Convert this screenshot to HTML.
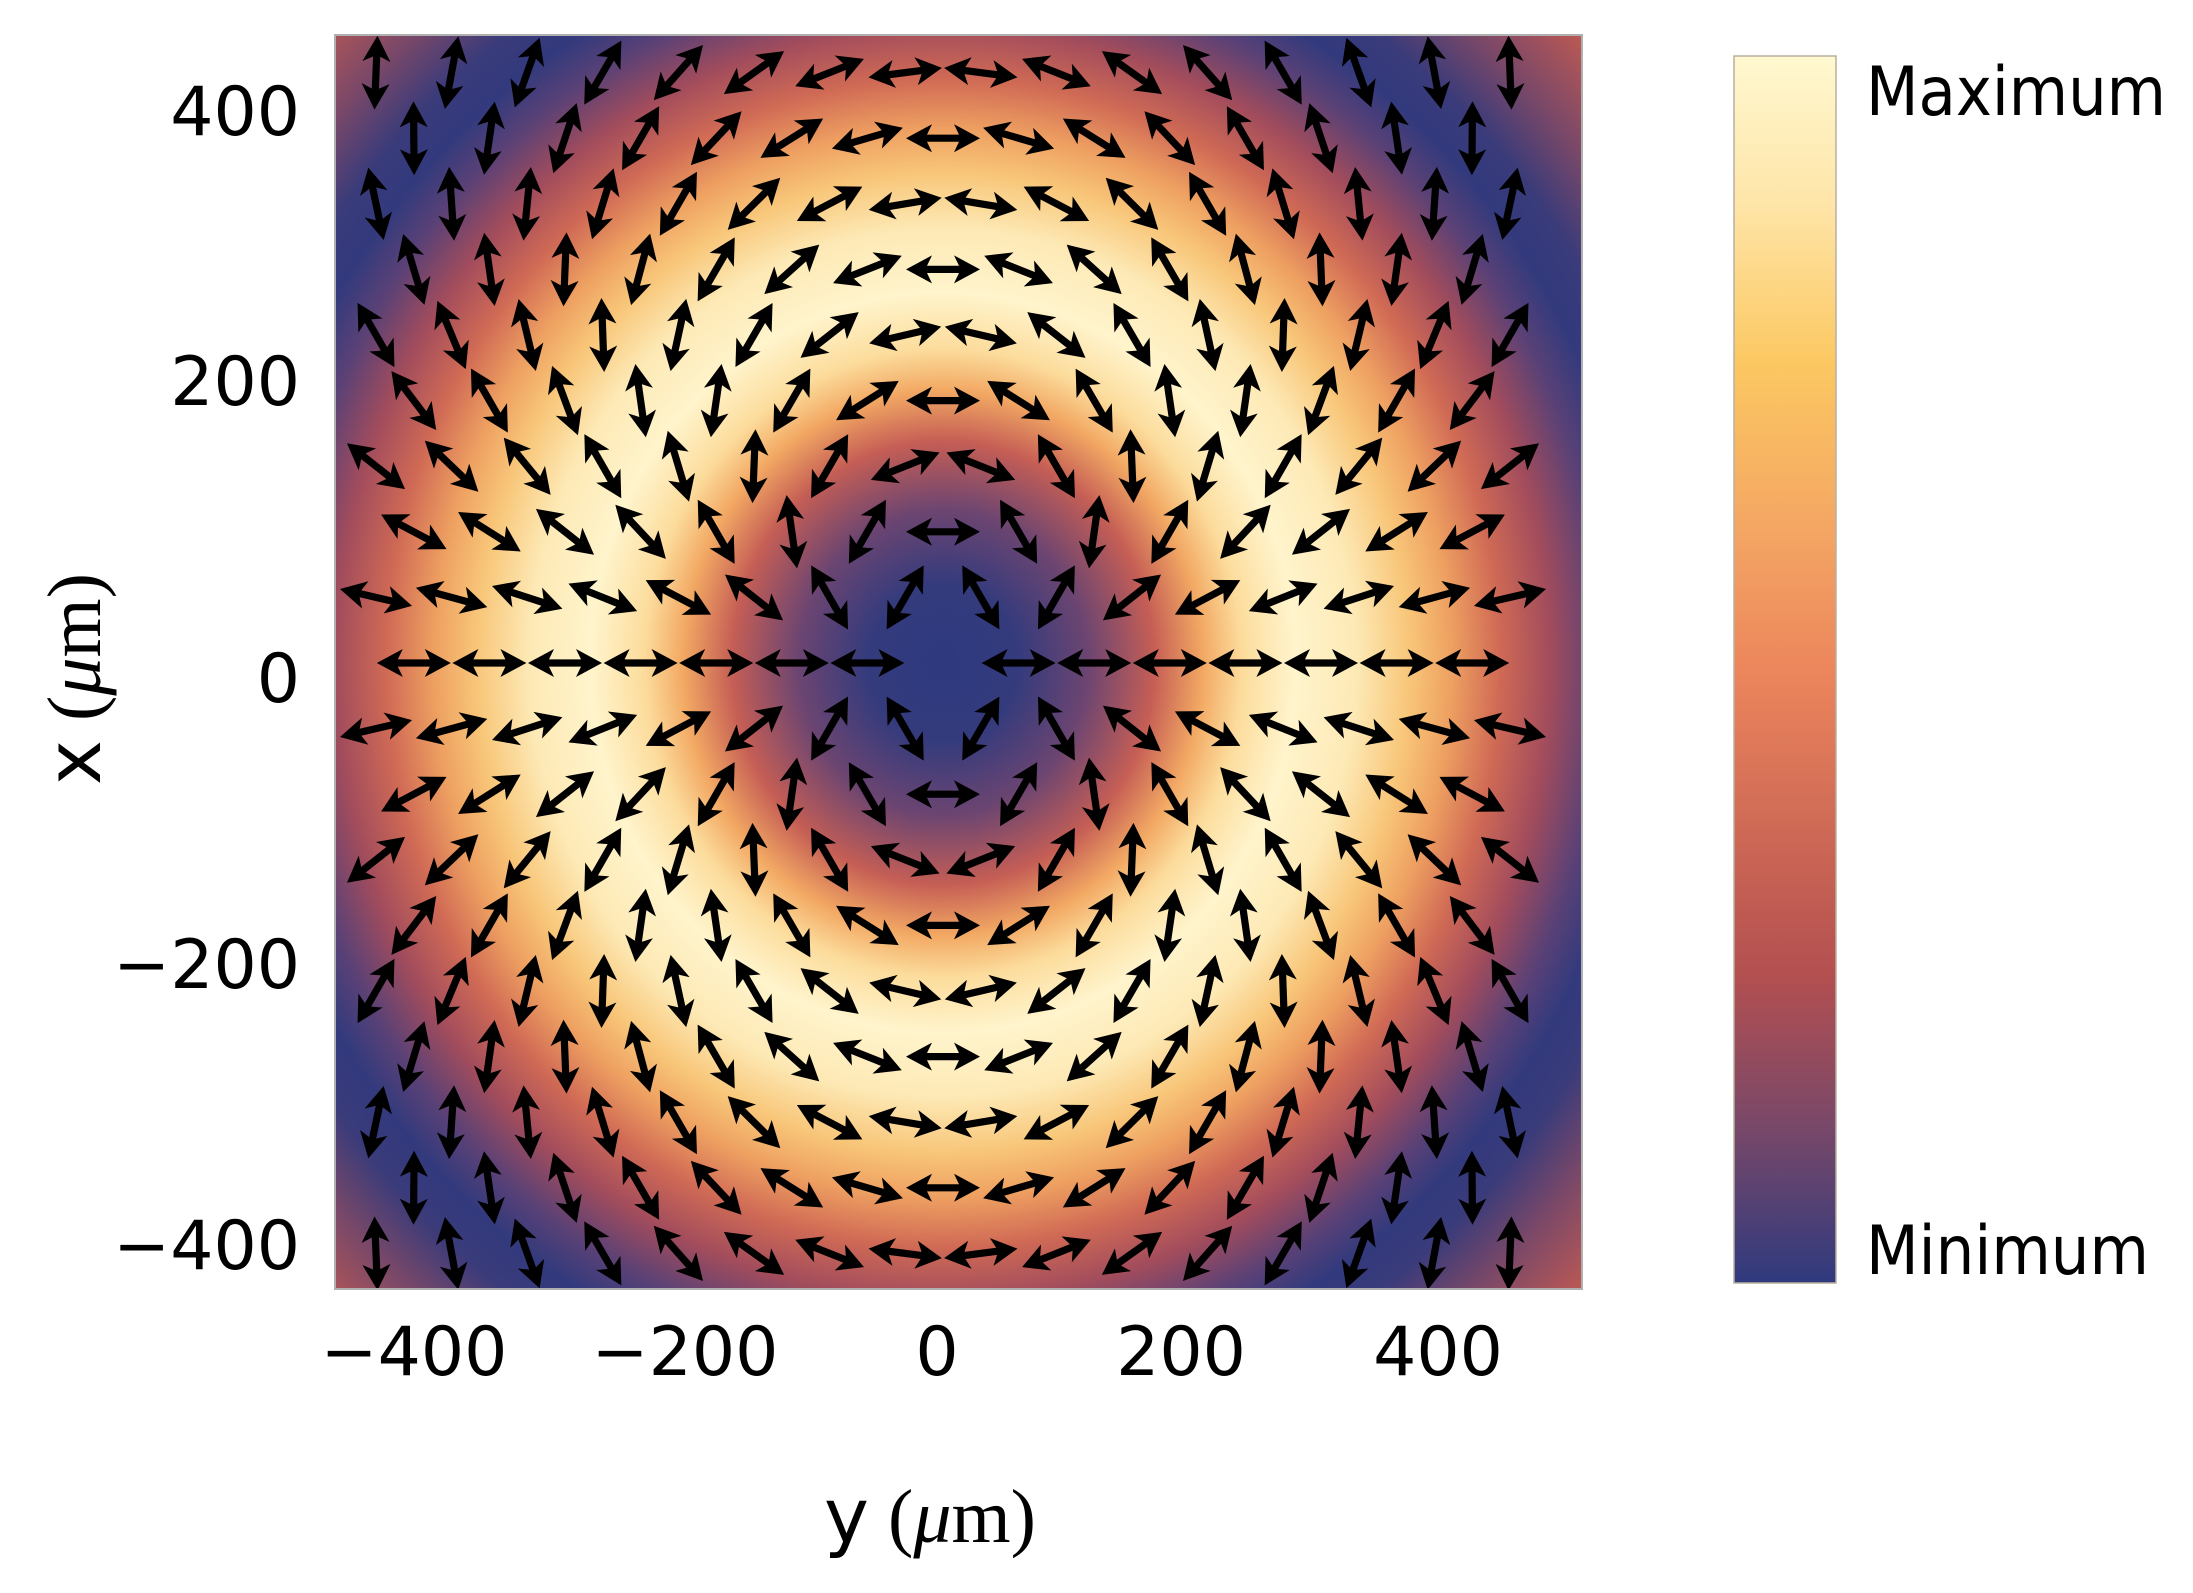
<!DOCTYPE html>
<html><head><meta charset="utf-8"><style>
html,body{margin:0;padding:0;background:#fff;}
svg{display:block;}
</style></head><body>
<svg id="s" width="2193" height="1593" viewBox="0 0 2193 1593" xmlns="http://www.w3.org/2000/svg">
<defs>
<clipPath id="cp"><rect x="335" y="35" width="1247" height="1254"/></clipPath>
<radialGradient id="rg" gradientUnits="userSpaceOnUse" cx="943" cy="663" r="880" gradientTransform="translate(943 663) scale(1 1.05) translate(-943 -663)">
<stop offset="0" stop-color="#2e3a7e"/>
<stop offset="0.085" stop-color="#343b7d"/>
<stop offset="0.165" stop-color="#6c4571"/>
<stop offset="0.240" stop-color="#c55e55"/>
<stop offset="0.295" stop-color="#f2a863"/>
<stop offset="0.340" stop-color="#fcdc9c"/>
<stop offset="0.400" stop-color="#fff4cc"/>
<stop offset="0.470" stop-color="#fde9b5"/>
<stop offset="0.530" stop-color="#f8c679"/>
<stop offset="0.578" stop-color="#eea061"/>
<stop offset="0.632" stop-color="#d06a55"/>
<stop offset="0.690" stop-color="#a24c5c"/>
<stop offset="0.748" stop-color="#5a4176"/>
<stop offset="0.795" stop-color="#323a7d"/>
<stop offset="0.841" stop-color="#3a3b7a"/>
<stop offset="0.909" stop-color="#7a4868"/>
<stop offset="1" stop-color="#c05a52"/>
</radialGradient>
<linearGradient id="cb" x1="0" y1="1" x2="0" y2="0">
<stop offset="0" stop-color="#2f3a7e"/>
<stop offset="0.13" stop-color="#7a4868"/>
<stop offset="0.25" stop-color="#b34f50"/>
<stop offset="0.5" stop-color="#ec865c"/>
<stop offset="0.6" stop-color="#f3a263"/>
<stop offset="0.75" stop-color="#fcc862"/>
<stop offset="0.88" stop-color="#fee5a8"/>
<stop offset="1" stop-color="#fff8d0"/>
</linearGradient>
<polygon id="ar" points="37,0 11,14 16,3.6 -16,3.6 -11,14 -37,0 -11,-14 -16,-3.6 16,-3.6 11,-14" fill="#000"/>
</defs>
<rect x="335" y="35" width="1247" height="1254" fill="url(#rg)"/>
<g id="arrows" clip-path="url(#cp)"></g>
<rect x="335" y="35" width="1247" height="1254" fill="none" stroke="#b0b0b0" stroke-width="2"/>

<g font-family="DejaVu Sans, Liberation Sans, sans-serif" font-size="68" fill="#000">
<text x="300" y="135" text-anchor="end">400</text>
<text x="300" y="405" text-anchor="end">200</text>
<text x="300" y="702" text-anchor="end">0</text>
<text x="300" y="988" text-anchor="end">−200</text>
<text x="300" y="1269" text-anchor="end">−400</text>
<text x="414" y="1375" text-anchor="middle">−400</text>
<text x="685" y="1375" text-anchor="middle">−200</text>
<text x="937" y="1375" text-anchor="middle">0</text>
<text x="1181" y="1375" text-anchor="middle">200</text>
<text x="1438" y="1375" text-anchor="middle">400</text>
<text x="1866" y="115" textLength="300" lengthAdjust="spacingAndGlyphs">Maximum</text>
<text x="1866" y="1274" textLength="283" lengthAdjust="spacingAndGlyphs">Minimum</text>
</g>
<text x="930" y="1542" text-anchor="middle" font-size="76" fill="#000"><tspan font-family="DejaVu Sans, sans-serif">y</tspan><tspan font-family="Liberation Serif, serif"> (</tspan><tspan font-family="Liberation Serif, serif" font-style="italic">μ</tspan><tspan font-family="Liberation Serif, serif">m)</tspan></text>
<text transform="translate(100 679) rotate(-90)" text-anchor="middle" font-size="76" fill="#000"><tspan font-family="DejaVu Sans, sans-serif">x</tspan><tspan font-family="Liberation Serif, serif"> (</tspan><tspan font-family="Liberation Serif, serif" font-style="italic">μ</tspan><tspan font-family="Liberation Serif, serif">m)</tspan></text>

<rect x="1734" y="56" width="102" height="1227" fill="url(#cb)" stroke="#b8b0a0" stroke-width="1.5"/>
</svg>
<script>
(function(){
var g=document.getElementById('arrows');
var cx=943,cy=663,dx=75.6,dy=65.6,out='';
for(var k=-9;k<=9;k++){
  var y=cy-dy*k;
  var odd=(Math.abs(k)%2===1);
  var ms=[];
  if(odd){for(var m=-8;m<=7;m++)ms.push(m+0.5);}
  else{for(var m=-7;m<=7;m++)ms.push(m);}
  for(var i=0;i<ms.length;i++){
    var x=cx+dx*ms[i];
    if(k===0&&ms[i]===0)continue;
    var ux=x-cx,uy=cy-y;
    var phi=Math.atan2(uy,ux);
    var th=2*phi;
    var deg=-th*180/Math.PI;
    out+='<use href="#ar" transform="translate('+x.toFixed(1)+' '+y.toFixed(1)+') rotate('+deg.toFixed(2)+')"/>';
  }
}
g.innerHTML=out;
})();
</script>
</body></html>
